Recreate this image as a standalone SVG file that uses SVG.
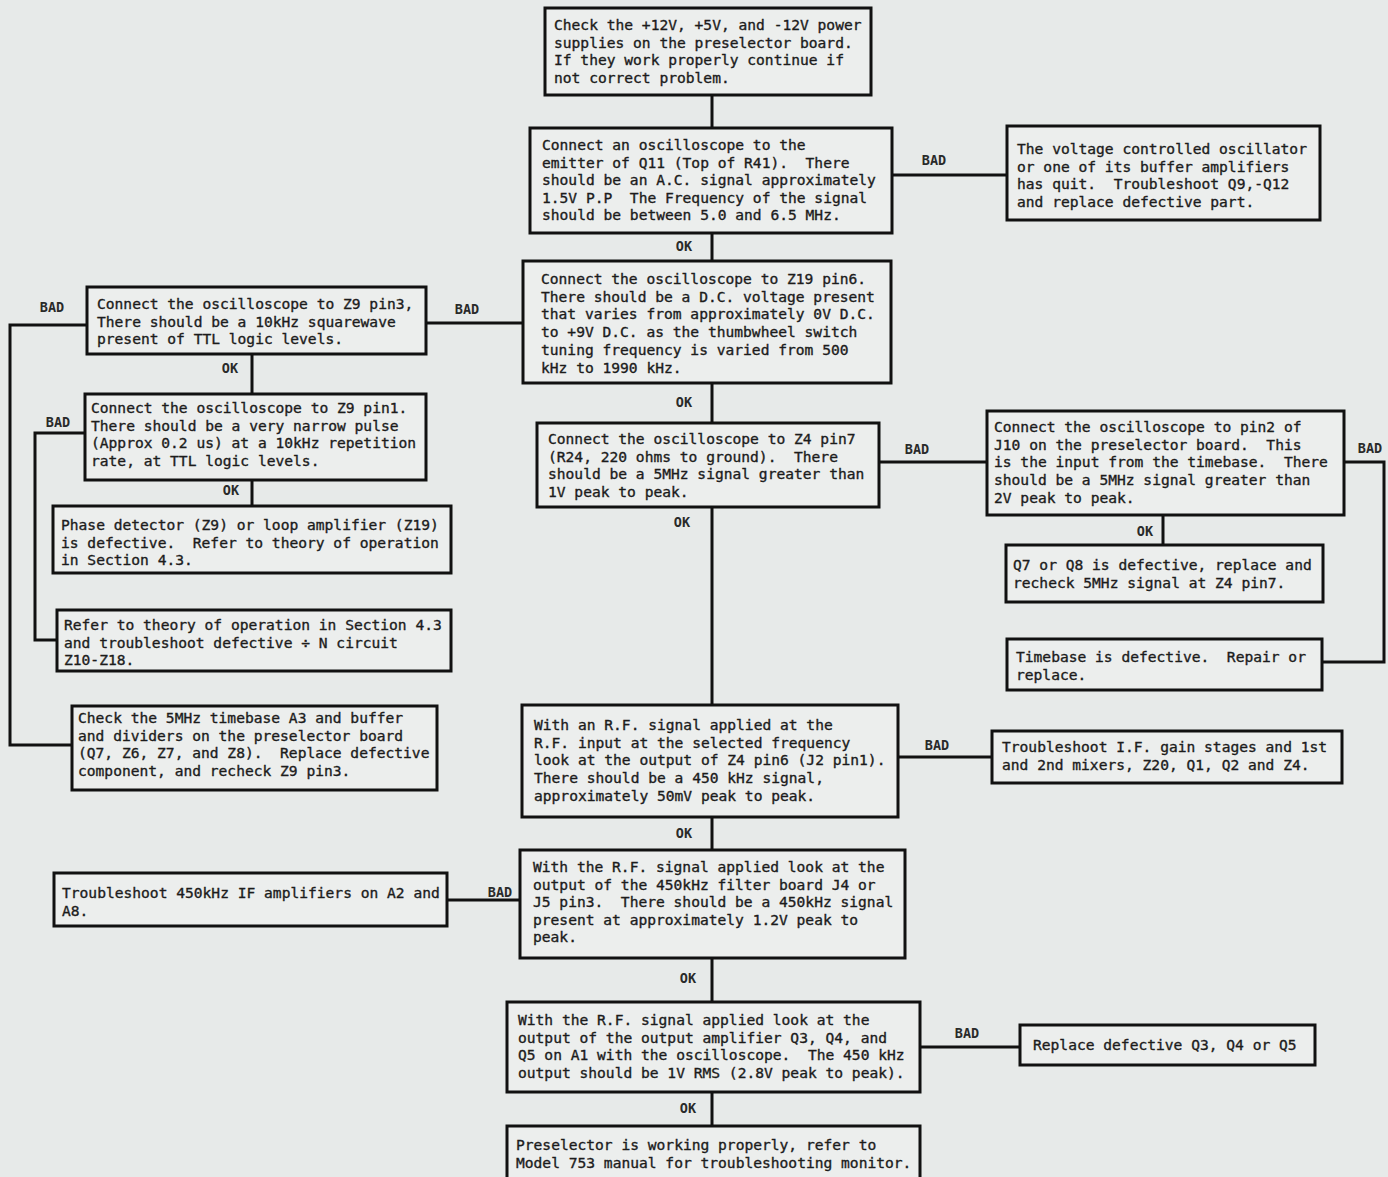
<svg xmlns="http://www.w3.org/2000/svg" width="1388" height="1177" viewBox="0 0 1388 1177">
<style>
.bg{fill:#e7eae9}
.box{fill:#eceeed;stroke:#111;stroke-width:3}
.t{font-family:"DejaVu Sans Mono","Liberation Mono",monospace;font-size:14.6px;fill:#1c1c1c;stroke:#1c1c1c;stroke-width:0.35;white-space:pre}
.lbl{font-family:"DejaVu Sans Mono","Liberation Mono",monospace;font-size:13.5px;font-weight:bold;fill:#2a2a2a;text-anchor:middle}
.c{fill:none;stroke:#111;stroke-width:3}
</style>
<rect class="bg" x="0" y="0" width="1388" height="1177"/>
<g id="connectors">
<path class="c" d="M712 95V128"/>
<path class="c" d="M712 233V261"/>
<path class="c" d="M712 383V423"/>
<path class="c" d="M712 507V705"/>
<path class="c" d="M712 817V850"/>
<path class="c" d="M712 958V1002"/>
<path class="c" d="M712 1092V1126"/>
<path class="c" d="M892 175H1007"/>
<path class="c" d="M523 323H426"/>
<path class="c" d="M87 325H10V745H72"/>
<path class="c" d="M252 354V393"/>
<path class="c" d="M252 480V506"/>
<path class="c" d="M85 433H35V640H57"/>
<path class="c" d="M879 462H987"/>
<path class="c" d="M1344 462H1384V662H1322"/>
<path class="c" d="M1163 515V545"/>
<path class="c" d="M898 757H992"/>
<path class="c" d="M520 900H447"/>
<path class="c" d="M920 1047H1020"/>
<text class="lbl" x="934" y="165">BAD</text>
<text class="lbl" x="684" y="251">OK</text>
<text class="lbl" x="467" y="314">BAD</text>
<text class="lbl" x="52" y="312">BAD</text>
<text class="lbl" x="58" y="427">BAD</text>
<text class="lbl" x="230" y="373">OK</text>
<text class="lbl" x="231" y="495">OK</text>
<text class="lbl" x="684" y="407">OK</text>
<text class="lbl" x="917" y="454">BAD</text>
<text class="lbl" x="1370" y="453">BAD</text>
<text class="lbl" x="1145" y="536">OK</text>
<text class="lbl" x="682" y="527">OK</text>
<text class="lbl" x="937" y="750">BAD</text>
<text class="lbl" x="684" y="838">OK</text>
<text class="lbl" x="500" y="897">BAD</text>
<text class="lbl" x="688" y="983">OK</text>
<text class="lbl" x="967" y="1038">BAD</text>
<text class="lbl" x="688" y="1113">OK</text>
</g>
<g id="n1"><rect class="box" x="545" y="8" width="326" height="87"/>
<text class="t" x="554" y="30">Check the +12V, +5V, and -12V power</text>
<text class="t" x="554" y="47.6">supplies on the preselector board.</text>
<text class="t" x="554" y="65.2">If they work properly continue if</text>
<text class="t" x="554" y="82.8">not correct problem.</text></g>
<g id="n2"><rect class="box" x="530" y="128" width="362" height="105"/>
<text class="t" x="542" y="150">Connect an oscilloscope to the</text>
<text class="t" x="542" y="167.5">emitter of Q11 (Top of R41).  There</text>
<text class="t" x="542" y="185">should be an A.C. signal approximately</text>
<text class="t" x="542" y="202.5">1.5V P.P  The Frequency of the signal</text>
<text class="t" x="542" y="220">should be between 5.0 and 6.5 MHz.</text></g>
<g id="n3"><rect class="box" x="1007" y="126" width="313" height="94"/>
<text class="t" x="1017" y="154">The voltage controlled oscillator</text>
<text class="t" x="1017" y="171.7">or one of its buffer amplifiers</text>
<text class="t" x="1017" y="189.4">has quit.  Troubleshoot Q9,-Q12</text>
<text class="t" x="1017" y="207.1">and replace defective part.</text></g>
<g id="n4"><rect class="box" x="523" y="261" width="368" height="122"/>
<text class="t" x="541" y="284">Connect the oscilloscope to Z19 pin6.</text>
<text class="t" x="541" y="301.7">There should be a D.C. voltage present</text>
<text class="t" x="541" y="319.4">that varies from approximately 0V D.C.</text>
<text class="t" x="541" y="337.1">to +9V D.C. as the thumbwheel switch</text>
<text class="t" x="541" y="354.8">tuning frequency is varied from 500</text>
<text class="t" x="541" y="372.5">kHz to 1990 kHz.</text></g>
<g id="n5"><rect class="box" x="87" y="287" width="339" height="67"/>
<text class="t" x="97" y="309">Connect the oscilloscope to Z9 pin3,</text>
<text class="t" x="97" y="326.5">There should be a 10kHz squarewave</text>
<text class="t" x="97" y="344">present of TTL logic levels.</text></g>
<g id="n6"><rect class="box" x="85" y="394" width="341" height="86"/>
<text class="t" x="91" y="413">Connect the oscilloscope to Z9 pin1.</text>
<text class="t" x="91" y="430.5">There should be a very narrow pulse</text>
<text class="t" x="91" y="448">(Approx 0.2 us) at a 10kHz repetition</text>
<text class="t" x="91" y="465.5">rate, at TTL logic levels.</text></g>
<g id="n7"><rect class="box" x="53" y="506" width="398" height="67"/>
<text class="t" x="61" y="530">Phase detector (Z9) or loop amplifier (Z19)</text>
<text class="t" x="61" y="547.5">is defective.  Refer to theory of operation</text>
<text class="t" x="61" y="565">in Section 4.3.</text></g>
<g id="n8"><rect class="box" x="57" y="610" width="394" height="61"/>
<text class="t" x="64" y="630">Refer to theory of operation in Section 4.3</text>
<text class="t" x="64" y="647.5">and troubleshoot defective ÷ N circuit</text>
<text class="t" x="64" y="665">Z10-Z18.</text></g>
<g id="n9"><rect class="box" x="72" y="706" width="365" height="84"/>
<text class="t" x="78" y="723">Check the 5MHz timebase A3 and buffer</text>
<text class="t" x="78" y="740.5">and dividers on the preselector board</text>
<text class="t" x="78" y="758">(Q7, Z6, Z7, and Z8).  Replace defective</text>
<text class="t" x="78" y="775.5">component, and recheck Z9 pin3.</text></g>
<g id="n10"><rect class="box" x="537" y="423" width="342" height="84"/>
<text class="t" x="548" y="444">Connect the oscilloscope to Z4 pin7</text>
<text class="t" x="548" y="461.7">(R24, 220 ohms to ground).  There</text>
<text class="t" x="548" y="479.4">should be a 5MHz signal greater than</text>
<text class="t" x="548" y="497.1">1V peak to peak.</text></g>
<g id="n11"><rect class="box" x="987" y="411" width="357" height="104"/>
<text class="t" x="994" y="432">Connect the oscilloscope to pin2 of</text>
<text class="t" x="994" y="449.7">J10 on the preselector board.  This</text>
<text class="t" x="994" y="467.4">is the input from the timebase.  There</text>
<text class="t" x="994" y="485.1">should be a 5MHz signal greater than</text>
<text class="t" x="994" y="502.8">2V peak to peak.</text></g>
<g id="n12"><rect class="box" x="1006" y="545" width="317" height="57"/>
<text class="t" x="1013" y="570">Q7 or Q8 is defective, replace and</text>
<text class="t" x="1013" y="587.7">recheck 5MHz signal at Z4 pin7.</text></g>
<g id="n13"><rect class="box" x="1007" y="639" width="315" height="51"/>
<text class="t" x="1016" y="662">Timebase is defective.  Repair or</text>
<text class="t" x="1016" y="680">replace.</text></g>
<g id="n14"><rect class="box" x="522" y="705" width="376" height="112"/>
<text class="t" x="534" y="730">With an R.F. signal applied at the</text>
<text class="t" x="534" y="747.7">R.F. input at the selected frequency</text>
<text class="t" x="534" y="765.4">look at the output of Z4 pin6 (J2 pin1).</text>
<text class="t" x="534" y="783.1">There should be a 450 kHz signal,</text>
<text class="t" x="534" y="800.8">approximately 50mV peak to peak.</text></g>
<g id="n15"><rect class="box" x="992" y="731" width="350" height="52"/>
<text class="t" x="1002" y="752">Troubleshoot I.F. gain stages and 1st</text>
<text class="t" x="1002" y="769.7">and 2nd mixers, Z20, Q1, Q2 and Z4.</text></g>
<g id="n16"><rect class="box" x="520" y="850" width="385" height="108"/>
<text class="t" x="533" y="872">With the R.F. signal applied look at the</text>
<text class="t" x="533" y="889.6">output of the 450kHz filter board J4 or</text>
<text class="t" x="533" y="907.2">J5 pin3.  There should be a 450kHz signal</text>
<text class="t" x="533" y="924.8">present at approximately 1.2V peak to</text>
<text class="t" x="533" y="942.4">peak.</text></g>
<g id="n17"><rect class="box" x="54" y="873" width="393" height="53"/>
<text class="t" x="62" y="898">Troubleshoot 450kHz IF amplifiers on A2 and</text>
<text class="t" x="62" y="915.5">A8.</text></g>
<g id="n18"><rect class="box" x="507" y="1002" width="413" height="90"/>
<text class="t" x="518" y="1025">With the R.F. signal applied look at the</text>
<text class="t" x="518" y="1042.6">output of the output amplifier Q3, Q4, and</text>
<text class="t" x="518" y="1060.2">Q5 on A1 with the oscilloscope.  The 450 kHz</text>
<text class="t" x="518" y="1077.8">output should be 1V RMS (2.8V peak to peak).</text></g>
<g id="n19"><rect class="box" x="1020" y="1025" width="295" height="40"/>
<text class="t" x="1033" y="1050">Replace defective Q3, Q4 or Q5</text></g>
<g id="n20"><rect class="box" x="507" y="1126" width="413" height="60"/>
<text class="t" x="516" y="1150">Preselector is working properly, refer to</text>
<text class="t" x="516" y="1167.6">Model 753 manual for troubleshooting monitor.</text></g>
</svg>
